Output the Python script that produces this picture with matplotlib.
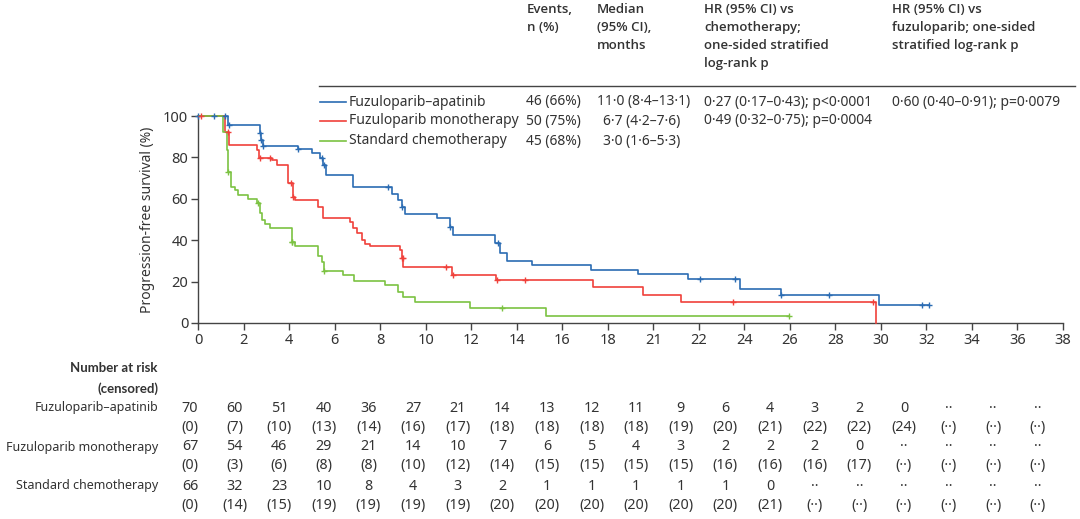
import matplotlib
matplotlib.use('Agg')
import matplotlib.pyplot as plt
import matplotlib.transforms as mtransforms
import numpy as np

plt.rcParams['font.family'] = ['Noto Sans', 'DejaVu Sans']

# Kaplan-Meier step points (months, % survival)
apa_t = [0, 1.3, 2.72, 2.77, 2.84, 4.41, 5.02, 5.36, 5.48, 5.61, 6.83, 8.51, 8.8, 8.95,
         9.09, 10.49, 11.07, 11.19, 13.05, 13.27, 13.56, 14.66, 17.25, 19.35, 21.54,
         23.8, 25.6, 29.9, 32.1]
apa_s = [100, 95.7, 92, 88.5, 85.5, 83.9, 82, 79.6, 76.3, 71.5, 65.8, 62.2, 59.4, 56.2,
         52.7, 50.6, 46.5, 42.5, 38.5, 33.7, 30, 28, 25.6, 23.7, 21.3, 16.3, 13.4, 8.7, 8.7]
apa_cens = [0, 0.7, 1.2, 1.38, 2.72, 2.77, 2.84, 4.41, 5.43, 5.53, 8.36, 8.95, 11.07,
            13.2, 22.06, 23.6, 25.6, 27.7, 31.8, 32.1]

mono_t = [0, 1.19, 1.38, 2.58, 2.68, 3.24, 3.46, 3.97, 4.19, 4.26, 5.29, 5.51, 6.68, 6.83,
          6.97, 7.19, 7.34, 7.56, 8.87, 8.95, 9.02, 11.15, 13.09, 17.34, 19.54, 21.2, 29.8]
mono_s = [100, 92.1, 86, 83.6, 79.6, 78.7, 76.3, 67.5, 61, 59.4, 56.2, 50.6, 49, 45.7,
          43.3, 40.1, 38.2, 37.3, 35.3, 31.3, 27.2, 23.2, 20.8, 17.2, 13.5, 10.3, 0]
mono_cens = [0.15, 1.33, 2.72, 3.16, 4.07, 4.19, 8.95, 9.0, 10.9, 11.2, 13.12, 14.37,
             23.5, 29.64]

chemo_t = [0, 1.11, 1.26, 1.33, 1.43, 1.63, 1.77, 2.21, 2.61, 2.72, 2.8, 2.94, 3.16, 4.12,
           4.26, 5.29, 5.43, 5.54, 6.38, 6.85, 8.22, 8.8, 9.02, 9.53, 11.95, 15.29, 25.98]
chemo_s = [100, 92.4, 83.6, 73.1, 65.8, 64.2, 61.8, 59.7, 57.8, 53, 49.8, 47.8, 45.7, 39.3,
           37.3, 32.4, 29.6, 25.3, 23.2, 20.1, 18.4, 15.1, 12.7, 10.3, 7.4, 3.4, 3.4]
chemo_cens = [1.33, 2.63, 4.12, 4.14, 5.54, 13.34, 25.98]

groups = ['Fuzuloparib–apatinib', 'Fuzuloparib monotherapy', 'Standard chemotherapy']
colors = ['#2b6cb3', '#f0413b', '#7cc242']
events = ['46 (66%)', '50 (75%)', '45 (68%)']
medians = ['11·0 (8·4–13·1)', '6·7 (4·2–7·6)', '3·0 (1·6–5·3)']
hr_chemo = ['0·27 (0·17–0·43); p<0·0001', '0·49 (0·32–0·75); p=0·0004', '']
hr_fuzu = ['0·60 (0·40–0·91); p=0·0079', '', '']

xticks = list(range(0, 39, 2))
xtick_labels = ['0', '2', '4', '6', '8', '10', '12', '14', '16', '18', '21', '22', '24',
                '26', '28', '30', '32', '34', '36', '38']

risk_apa = ['70', '60', '51', '40', '36', '27', '21', '14', '13', '12', '11', '9', '6',
            '4', '3', '2', '0', '··', '··', '··']
cens_apa = ['(0)', '(7)', '(10)', '(13)', '(14)', '(16)', '(17)', '(18)', '(18)', '(18)',
            '(18)', '(19)', '(20)', '(21)', '(22)', '(22)', '(24)', '(··)', '(··)', '(··)']
risk_mono = ['67', '54', '46', '29', '21', '14', '10', '7', '6', '5', '4', '3', '2', '2',
             '2', '0', '··', '··', '··', '··']
cens_mono = ['(0)', '(3)', '(6)', '(8)', '(8)', '(10)', '(12)', '(14)', '(15)', '(15)',
             '(15)', '(15)', '(16)', '(16)', '(16)', '(17)', '(··)', '(··)', '(··)', '(··)']
risk_chemo = ['66', '32', '23', '10', '8', '4', '3', '2', '1', '1', '1', '1', '1', '0',
              '··', '··', '··', '··', '··', '··']
cens_chemo = ['(0)', '(14)', '(15)', '(19)', '(19)', '(19)', '(19)', '(20)', '(20)', '(20)',
              '(20)', '(20)', '(20)', '(21)', '(··)', '(··)', '(··)', '(··)', '(··)', '(··)']

txt = '#333333'
bold_fam = ['Open Sans', 'Lato', 'DejaVu Sans']
W, H = 1080, 519
fig = plt.figure(figsize=(W / 100, H / 100), dpi=100)
ax = fig.add_axes([198 / W, 1 - 323 / H, 865 / W, 207 / H])

curves = [(apa_t, apa_s, apa_cens), (mono_t, mono_s, mono_cens), (chemo_t, chemo_s, chemo_cens)]
for (t, s, c), col in zip(curves, colors):
    ax.step(t, s, where='post', color=col, lw=1.2, clip_on=False, zorder=3)
    idx = np.searchsorted(t, c, side='right') - 1
    ax.plot(c, np.array(s)[idx], '+', color=col, ms=5, mew=1.0, clip_on=False, zorder=4)

ax.set_xlim(0, 38)
ax.set_ylim(0, 100)
ax.set_xticks(xticks)
ax.set_xticklabels(xtick_labels)
ax.set_yticks(range(0, 101, 20))
for sp in ['top', 'right']:
    ax.spines[sp].set_visible(False)
for sp in ['left', 'bottom']:
    ax.spines[sp].set_color('#444444')
    ax.spines[sp].set_linewidth(1.0)
ax.tick_params(colors='#444444', labelcolor=txt, labelsize=10.5, length=5, width=1.0,
               pad=2)
ax.set_ylabel('Progression-free survival (%)', color=txt, fontsize=10, labelpad=6)

# header of the summary table
fs = 10
head = [(527, 'Events,\nn (%)'),
        (597, 'Median\n(95% CI),\nmonths'),
        (704, 'HR (95% CI) vs\nchemotherapy;\none-sided stratified\nlog-rank p'),
        (892, 'HR (95% CI) vs\nfuzuloparib; one-sided\nstratified log-rank p')]
for x, s in head:
    fig.text(x / W, 1 - 3 / H, s, ha='left', va='top', fontsize=9.5, color=txt,
             family=bold_fam, fontweight='semibold', linespacing=1.5)
fig.add_artist(plt.Line2D([319 / W, 1075 / W], [1 - 86 / H, 1 - 86 / H],
                          color='#444444', lw=1.0))

rows_y = [102, 121, 141]
med_x = [597, 603, 603]
for i, y in enumerate(rows_y):
    yy = 1 - y / H
    fig.add_artist(plt.Line2D([320 / W, 346 / W], [yy, yy], color=colors[i], lw=1.2))
    fig.text(349 / W, yy, groups[i], ha='left', va='center', fontsize=fs, color=txt)
    fig.text(526 / W, yy, events[i], ha='left', va='center', fontsize=fs, color=txt)
    fig.text(med_x[i] / W, yy, medians[i], ha='left', va='center', fontsize=fs, color=txt)
    fig.text(704 / W, yy, hr_chemo[i], ha='left', va='center', fontsize=fs, color=txt)
    fig.text(892 / W, yy, hr_fuzu[i], ha='left', va='center', fontsize=fs, color=txt)

# number at risk table
trans = mtransforms.blended_transform_factory(ax.transData, fig.transFigure)
lab_x = 158 / W
fig.text(lab_x, 1 - 368 / H, 'Number at risk', ha='right', va='center', fontsize=9.5,
         color=txt, family=['Lato', 'Open Sans', 'DejaVu Sans'], fontweight='bold')
fig.text(lab_x, 1 - 389 / H, '(censored)', ha='right', va='center', fontsize=9.5,
         color=txt, family=['Lato', 'Open Sans', 'DejaVu Sans'], fontweight='bold')
table = [(groups[0], risk_apa, cens_apa, 408, 427),
         (groups[1], risk_mono, cens_mono, 447, 466),
         (groups[2], risk_chemo, cens_chemo, 486, 505)]
col_x = [-0.35 + 0.98 * t for t in xticks]
for name, nr, nc, y1, y2 in table:
    fig.text(lab_x, 1 - y1 / H, name, ha='right', va='center', fontsize=9.0, color=txt)
    for x, a, b in zip(col_x, nr, nc):
        ax.text(x, 1 - y1 / H, a, transform=trans, ha='center', va='center',
                fontsize=10.3, color=txt, clip_on=False)
        ax.text(x, 1 - y2 / H, b, transform=trans, ha='center', va='center',
                fontsize=10.3, color=txt, clip_on=False)

fig.savefig('out.png', dpi=100)
